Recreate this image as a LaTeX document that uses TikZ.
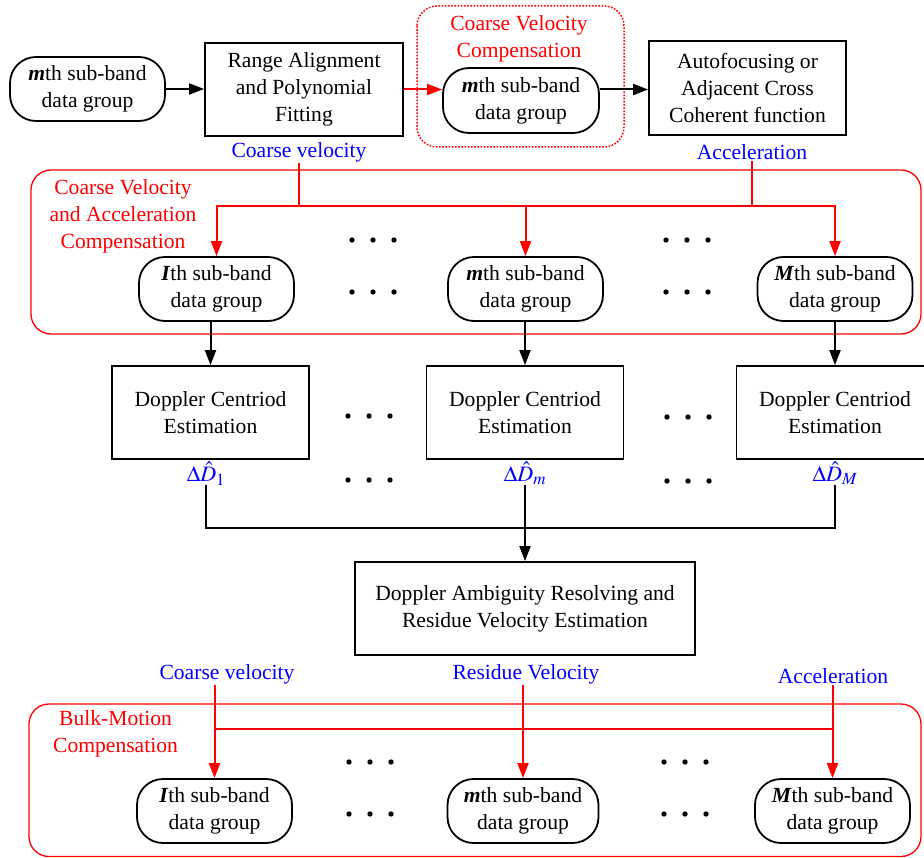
\documentclass[tikz,border=0pt]{standalone}
\usepackage{mathptmx}
\usepackage{fontspec}
\setmainfont{Liberation Serif}
\DeclareMathSizes{21.6}{22}{17}{13}
\usetikzlibrary{arrows.meta}
\begin{document}
\begin{tikzpicture}[x=1pt,y=-1pt,
  font=\fontsize{21.6}{27}\selectfont,
  sqbox/.style={draw=black, line width=1.8pt, align=center, inner sep=0pt},
  pill/.style={sqbox, rounded corners=26pt, minimum width=155pt, minimum height=64pt},
  arr/.style={line width=2pt, -{Triangle[length=15pt,width=11pt]}},
  rarr/.style={arr, draw=red},
  rline/.style={line width=2pt, draw=red},
  bline/.style={line width=2pt, draw=black},
  lblb/.style={text=blue, inner sep=1pt},
  lblr/.style={text=red, align=center, inner sep=1pt},
  region/.style={draw=red, line width=1.3pt, rounded corners=20pt},
  dotrow/.style={fill=black}
]
\useasboundingbox (0,0) rectangle (924,858);

% ---------- top row ----------
\node[pill] (a1) at (87.5,89) {\textbf{\textit{m}}th sub-band\\data group};
\node[sqbox, minimum width=198pt, minimum height=93pt] (ra) at (304,89.5) {Range Alignment\\and Polynomial\\Fitting};
\draw[red, line width=1.5pt, dash pattern=on 1.6pt off 1.6pt, rounded corners=20pt] (417,6) rectangle (624,147);
\node[lblr] (cvt) at (519,38.5) {Coarse Velocity\\Compensation};
\node[pill, minimum width=156pt, minimum height=65pt] (cv) at (521,100.5) {\textbf{\textit{m}}th sub-band\\data group};
\node[sqbox, minimum width=197pt, minimum height=94pt] (af) at (747.5,88) {Autofocusing or\\Adjacent Cross\\Coherent function};
\draw[arr] (a1.east) -- (ra.west |- a1.east);
\draw[rarr] (ra.east) -- (ra.east -| cv.west);
\draw[arr] (cv.east |- ra.east) -- (af.west |- ra.east);
\node[lblb] (cv1) at (299,152) {Coarse velocity};
\node[lblb] (ac1) at (752,152) {Acceleration};

% ---------- section 2 ----------
\draw[region] (31,170) rectangle (921,334);
\node[lblr] (r2) at (123,216) {Coarse Velocity\\and Acceleration\\Compensation};
\node[pill] (p21) at (216.5,289) {\textbf{\textit{I}}th sub-band\\data group};
\node[pill] (p22) at (525.5,289) {\textbf{\textit{m}}th sub-band\\data group};
\node[pill] (p23) at (835,289) {\textbf{\textit{M}}th sub-band\\data group};
\coordinate (j1) at (299,206);
\coordinate (j2) at (752,206);
\draw[rline] (cv1.south) -- (j1);
\draw[rline] (ac1.south) -- (j2);
\draw[rline] (j1) -- (j2);
\draw[rarr] (j1) -| (p21.north);
\draw[rarr] (p22.north |- j1) -- (p22.north);
\draw[rarr] (j2) -| (p23.north);

% ---------- Doppler centroid row ----------
\node[sqbox, minimum width=197pt, minimum height=93pt] (d1) at (210.5,412.5) {Doppler Centriod\\Estimation};
\node[sqbox, minimum width=197pt, minimum height=93pt] (d2) at (525,412.5) {Doppler Centriod\\Estimation};
\node[sqbox, minimum width=197pt, minimum height=93pt] (d3) at (835,412.5) {Doppler Centriod\\Estimation};
\draw[arr] (d1.north |- p21.south) -- (d1.north);
\draw[arr] (d2.north |- p22.south) -- (d2.north);
\draw[arr] (d3.north |- p23.south) -- (d3.north);

\node[lblb, anchor=north, inner sep=0pt] (e1) at (206,462) {$\Delta\hat{D}_1$};
\node[lblb, anchor=north, inner sep=0pt] (e2) at (525,462) {$\Delta\hat{D}_m$};
\node[lblb, anchor=north, inner sep=0pt] (e3) at (835,462) {$\Delta\hat{D}_M$};

\node[sqbox, minimum width=340pt, minimum height=93pt] (amb) at (525,608.5) {Doppler Ambiguity Resolving and\\Residue Velocity Estimation};
\coordinate (ja) at (525,528);
\draw[bline] (e1.south) -- (e1.south |- ja) -- (e3.south |- ja) -- (e3.south);
\draw[arr] (e2.south) -- (amb.north);

% ---------- bottom section ----------
\node[lblb] (cv2) at (227,674) {Coarse velocity};
\node[lblb] (rv) at (526,674) {Residue Velocity};
\node[lblb] (ac2) at (833,676) {Acceleration};
\draw[region] (29,704) rectangle (921,856.5);
\node[lblr] (r3) at (115.5,733.5) {Bulk-Motion\\Compensation};
\node[pill] (p31) at (214.5,811) {\textbf{\textit{I}}th sub-band\\data group};
\node[pill, minimum width=151pt] (p32) at (523,811) {\textbf{\textit{m}}th sub-band\\data group};
\node[pill] (p33) at (832.5,811) {\textbf{\textit{M}}th sub-band\\data group};
\coordinate (k) at (0,729);
\draw[rline] (p31.north |- k) -- (p33.north |- k);
\draw[rarr] (p31.north |- cv2.south) -- (p31.north);
\draw[rarr] (p32.north |- rv.south) -- (p32.north);
\draw[rarr] (p33.north |- ac2.south) -- (p33.north);

% ---------- ellipsis dots ----------
\foreach \x/\y in {373/240, 373/292, 687/240, 687/292,
                   369/416, 369/480, 688/417, 688/481,
                   370/762, 370/814, 685/762, 685/814}
  \foreach \d in {-21,0,21}
    \fill[dotrow] (\x+\d,\y) circle (2.7);
\end{tikzpicture}
\end{document}
